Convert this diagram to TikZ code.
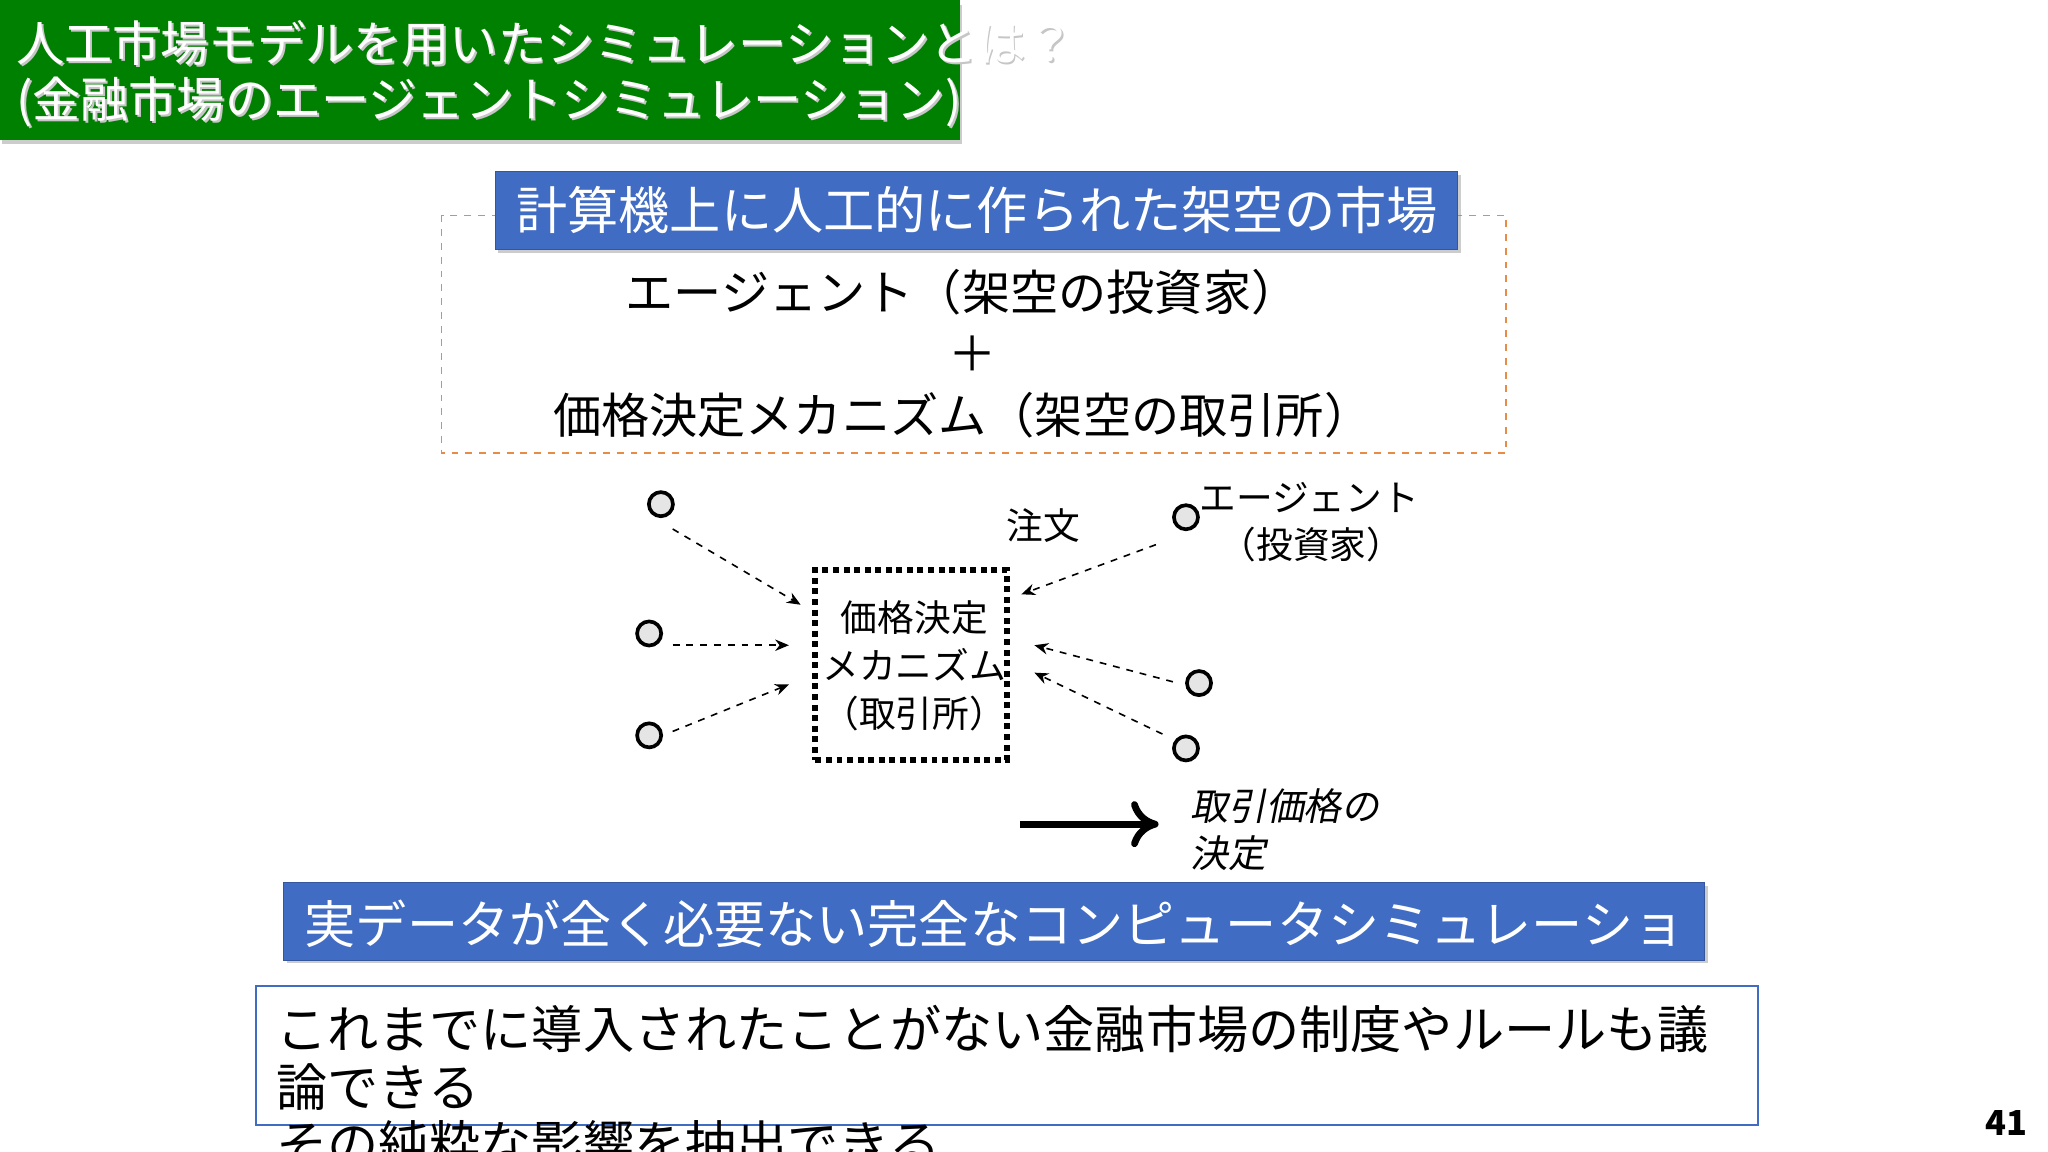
\documentclass[tikz,border=0pt]{standalone}
\usepackage{fontspec}
\setmainfont{Noto Sans CJK JP}
\newfontfamily\cjkit[FakeSlant=0.2]{Noto Sans CJK JP}
\usetikzlibrary{arrows.meta,shadows}
\definecolor{hblue}{RGB}{64,108,196}
\definecolor{tgreen}{RGB}{0,128,0}
\definecolor{dorange}{RGB}{230,140,70}
\tikzset{
  big/.style={font=\fontsize{21}{26}\selectfont,inner sep=0pt},
  bigger/.style={font=\fontsize{22.3}{27}\selectfont,inner sep=0pt},
  mid/.style={font=\fontsize{16}{19}\selectfont,inner sep=0pt},
  agent/.style={circle,draw,line width=1.6pt,fill=gray!20,minimum size=10.5pt,inner sep=0pt},
  order/.style={dashed,-{Stealth[length=6pt,width=5pt]},line width=0.7pt},
  bar/.style={fill=hblue,draw=hblue!80!black,drop shadow={shadow xshift=1.5pt,shadow yshift=-1.5pt,opacity=0.4}},
}
\begin{document}
\begin{tikzpicture}[x=0.02cm,y=-0.02cm]
\useasboundingbox (0,0) rectangle (1568,882);
\fill[white] (0,0) rectangle (1568,882);
% title
\fill[tgreen,drop shadow={shadow xshift=1pt,shadow yshift=-2pt,opacity=0.4}] (0,0) rectangle (735,107);
\node[big,anchor=west,text=gray!45] (t1s) at (13.5,34.5) {人工市場モデルを用いたシミュレーションとは？};
\node[big,anchor=west,text=gray!45] (t2s) at (13.5,79.5) {(金融市場のエージェントシミュレーション)};
\node[big,anchor=west,text=white] (t1) at (12,33) {人工市場モデルを用いたシミュレーションとは？};
\node[big,anchor=west,text=white] (t2) at (12,78) {(金融市場のエージェントシミュレーション)};
% dashed box
\draw[dorange,dashed,line width=0.8pt] (338,165) rectangle (1153,347);
\draw[bar] (379,131) rectangle (1116,191);
\node[bigger,text=white] (h1) at (748,161) {計算機上に人工的に作られた架空の市場};
\node[big] (l1) at (737,224) {エージェント（架空の投資家）};
\node[big] (l2) at (745,271) {＋};
\node[big] (l3) at (737,318) {価格決定メカニズム（架空の取引所）};
% mechanism
\node[draw,line width=2.6pt,dotted,minimum width=147*0.567pt,minimum height=146*0.567pt,inner sep=0pt] (mech) at (697.5,509) {};
\node[mid,align=center] (mt) at (700,510) {価格決定\\[2pt]メカニズム\\[2pt]（取引所）};
\node[agent] (a1) at (506,386) {};
\node[agent] (a2) at (497,485) {};
\node[agent] (a3) at (497,563) {};
\node[agent] (a4) at (908,396) {};
\node[agent] (a5) at (918,523) {};
\node[agent] (a6) at (908,573) {};
\coordinate (p1) at (613,463); \coordinate (p2) at (604,494); \coordinate (p3) at (604,524);
\coordinate (p4) at (782,455); \coordinate (p5) at (792,494); \coordinate (p6) at (792,515);
\draw[order] ([shift={(9,19)}]a1.center) -- (p1);
\draw[order] ([shift={(18,9)}]a2.center) -- (p2);
\draw[order] ([shift={(18,-3)}]a3.center) -- (p3);
\draw[order] ([shift={(-23,21)}]a4.center) -- (p4);
\draw[order] ([shift={(-20,-1)}]a5.center) -- (p5);
\draw[order] ([shift={(-18,-11)}]a6.center) -- (p6);
\node[mid] (ch) at (799,402) {注文};
\node[mid,anchor=west] (ag1) at (918,381) {エージェント};
\node[mid] (ag2) at (1004,417) {（投資家）};
\coordinate (r1) at (781,631); \coordinate (r2) at (887,631);
\draw[line width=3pt,-{To[length=12pt,width=20pt,line width=3pt]}] (r1) -- (r2);
\node[mid,anchor=west,font=\fontsize{16.5}{19}\cjkit] (tp1) at (911,617) {取引価格の};
\node[mid,anchor=west,font=\fontsize{16.5}{19}\cjkit] (tp2) at (911,653) {決定};
% bottom
\draw[bar] (217,676) rectangle (1305,735);
\begin{scope}
\clip (217,676) rectangle (1292,735);
\node[bigger,anchor=west,text=white] (h2) at (233,707) {実データが全く必要ない完全なコンピュータシミュレーション};
\end{scope}
\draw[hblue,line width=0.8pt,fill=white] (196,755) rectangle (1346,861);
\node[bigger,anchor=west] (b1) at (211,788) {これまでに導入されたことがない金融市場の制度やルールも議};
\node[bigger,anchor=west] (b2) at (211,832) {論できる};
\node[bigger,anchor=west] (b3) at (211,876) {その純粋な影響を抽出できる};
\node[font=\fontsize{15}{18}\selectfont\bfseries,inner sep=0pt] (pg) at (1536,860) {41};
\end{tikzpicture}
\end{document}
